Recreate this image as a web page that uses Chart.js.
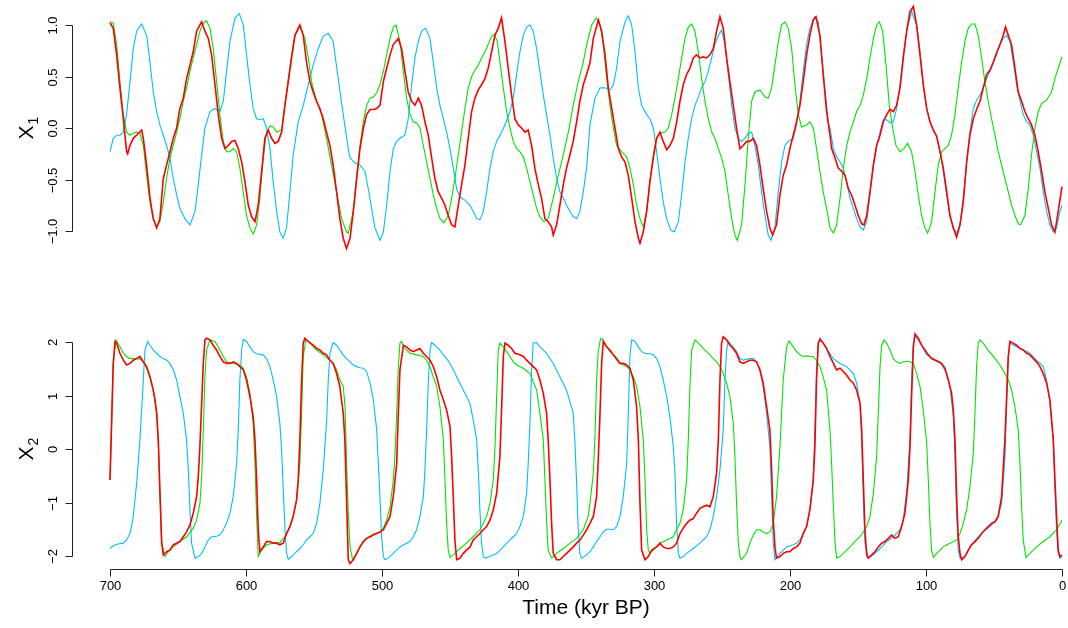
<!DOCTYPE html>
<html>
<head>
<meta charset="utf-8">
<script src="https://cdn.jsdelivr.net/npm/chart.js@4.4.1/dist/chart.umd.min.js"></script>
<style>
html, body { margin: 0; padding: 0; background: #fff; }
#wrap { position: relative; width: 1068px; height: 628px; }
#wrap canvas { position: absolute; left: 0; top: 0; }
</style>
</head>
<body>
<div id="wrap">
  <canvas id="topChart" width="1068" height="628"></canvas>
  <canvas id="bottomChart" width="1068" height="628"></canvas>
</div>
<script>
// axis ticks
const timeTicks = [700, 600, 500, 400, 300, 200, 100, 0];
const x1Ticks = [-1, -0.5, 0, 0.5, 1];
const x1TickLabels = ['−1.0', '−0.5', '0.0', '0.5', '1.0'];
const x2Ticks = [-2, -1, 0, 1, 2];
const x2TickLabels = ['−2', '−1', '0', '1', '2'];

// [time kyr BP, value]
const x1Red = [[700,1.02],[697.6,0.97],[695.1,0.71],[692.7,0.39],[690.2,0.09],[687.8,-0.23],[687,-0.25],[685.3,-0.17],[682.9,-0.10],[680.4,-0.07],[676.7,-0.02],[675.5,-0.10],[673.1,-0.36],[670.6,-0.68],[668.2,-0.88],[665.7,-0.97],[663.3,-0.88],[660.8,-0.49],[658.4,-0.36],[655.9,-0.23],[653.5,-0.10],[651,0.00],[648.6,0.19],[646.1,0.29],[643.7,0.48],[641.2,0.61],[638.8,0.74],[636.3,0.94],[633.9,1.00],[632.6,1.03],[630.2,0.94],[627.7,0.87],[625.3,0.71],[622.8,0.42],[620.4,0.13],[617.9,-0.10],[615.5,-0.20],[613,-0.17],[610.6,-0.13],[608.1,-0.12],[605.7,-0.20],[603.2,-0.33],[600.8,-0.52],[598.3,-0.75],[595.9,-0.86],[593.4,-0.91],[591,-0.75],[588.5,-0.42],[586.1,-0.10],[583.6,-0.02],[581.2,-0.10],[578.7,-0.15],[576.3,-0.13],[573.8,-0.04],[571.4,0.22],[568.9,0.45],[566.5,0.68],[564,0.90],[560.4,1.00],[557.9,0.90],[555.5,0.64],[553,0.45],[550.6,0.35],[548.1,0.26],[545.7,0.19],[543.2,0.09],[540.8,-0.04],[538.3,-0.17],[535.9,-0.36],[533.4,-0.62],[531,-0.88],[528.5,-1.07],[526.1,-1.17],[523.5,-1.07],[521.1,-0.81],[518.6,-0.49],[516.2,-0.20],[513.7,0.00],[511.3,0.13],[508.8,0.18],[506.4,0.18],[503.9,0.19],[501.5,0.22],[499,0.45],[496.6,0.58],[494.1,0.71],[491.7,0.81],[488,0.87],[485.6,0.77],[483.1,0.55],[480.7,0.35],[478.2,0.26],[475.8,0.22],[473.3,0.29],[470.9,0.22],[468.4,0.06],[466,-0.07],[463.5,-0.29],[461.1,-0.49],[458.6,-0.62],[456.2,-0.68],[453.7,-0.75],[451.3,-0.85],[448.8,-0.94],[446.4,-0.96],[443.9,-0.75],[441.5,-0.55],[439,-0.36],[436.6,-0.10],[434.1,0.16],[431.7,0.29],[429.2,0.37],[426.8,0.42],[424.3,0.48],[421.9,0.58],[419.4,0.74],[417,0.90],[414.5,0.97],[412.1,1.07],[409.6,0.84],[407.2,0.58],[404.7,0.32],[402.3,0.09],[399.8,0.03],[397.4,0.00],[394.9,-0.04],[392.5,-0.02],[390,-0.17],[387.6,-0.39],[385.1,-0.55],[382.7,-0.68],[380.2,-0.88],[377.8,-0.91],[375.3,-0.96],[374.1,-1.04],[371.6,-0.94],[369.2,-0.75],[366.7,-0.55],[364.3,-0.39],[361.8,-0.26],[359.4,-0.13],[356.9,0.06],[354.5,0.26],[352,0.42],[349.6,0.52],[347.1,0.63],[344.6,0.87],[340.9,1.05],[338.5,0.94],[336,0.71],[333.6,0.39],[331.1,0.19],[328.7,0.00],[326.2,-0.20],[323.8,-0.28],[321.3,-0.33],[318.9,-0.46],[316.4,-0.68],[314,-0.91],[311.5,-1.07],[310.3,-1.12],[307.9,-1.01],[305.4,-0.81],[303,-0.52],[300.5,-0.29],[298.1,-0.10],[295.6,-0.04],[293.2,-0.13],[290.7,-0.21],[288.3,-0.17],[285.8,-0.10],[283.3,0.06],[280.9,0.26],[278.5,0.42],[276,0.52],[273.6,0.58],[271.1,0.68],[268.7,0.71],[266.2,0.68],[263.8,0.69],[261.3,0.68],[258.9,0.71],[256.4,0.77],[254,0.94],[251.5,1.08],[249.1,0.97],[246.6,0.68],[244.2,0.45],[241.7,0.22],[239.3,0.00],[236.8,-0.20],[234.4,-0.17],[231.9,-0.13],[229.5,-0.13],[227,-0.10],[224.6,-0.17],[222.1,-0.36],[219.7,-0.59],[217.2,-0.81],[214.8,-0.97],[212.8,-1.04],[209.9,-0.94],[207.4,-0.65],[205,-0.46],[202.5,-0.36],[200.1,-0.20],[197.6,-0.07],[195.2,0.06],[192.7,0.22],[190.3,0.45],[187.8,0.71],[185.4,0.90],[182.9,1.05],[180.9,1.08],[178,0.90],[175.6,0.52],[173.1,0.16],[170.6,-0.07],[169.4,-0.20],[166.9,-0.29],[164.5,-0.39],[162,-0.42],[159.6,-0.46],[157.1,-0.59],[154.7,-0.65],[152.2,-0.75],[149.8,-0.85],[147.3,-0.93],[145.6,-0.94],[143.6,-0.85],[141.2,-0.62],[138.7,-0.36],[136.3,-0.17],[133.8,-0.07],[131.4,0.06],[128.9,0.13],[126.5,0.18],[124,0.16],[121.6,0.22],[119.1,0.39],[116.7,0.68],[114.2,0.94],[111.8,1.13],[109.3,1.18],[106.9,1.00],[104.4,0.71],[102,0.42],[99.5,0.19],[97.1,0.06],[94.6,-0.02],[92.2,-0.08],[89.7,-0.23],[87.3,-0.39],[84.8,-0.62],[82.4,-0.85],[79.9,-0.97],[77.5,-1.06],[75,-0.94],[72.6,-0.72],[70.1,-0.33],[67.7,-0.07],[65.2,0.09],[62.8,0.18],[60.3,0.26],[57.9,0.39],[55.4,0.52],[53,0.56],[50.5,0.64],[48.1,0.73],[45.6,0.81],[43.2,0.90],[41.5,0.98],[39.5,0.90],[37.1,0.81],[34.6,0.58],[32.2,0.35],[29.7,0.26],[27.3,0.16],[24.8,0.09],[22.4,0.03],[19.9,-0.07],[17.5,-0.23],[15,-0.42],[12.6,-0.62],[10.1,-0.78],[7.7,-0.94],[5.2,-1.01],[2.8,-0.81],[0,-0.57]];

const x1Green = [[700,1.03],[697.6,1.02],[695.1,0.81],[692.7,0.45],[690.2,0.13],[687.8,-0.04],[685.3,-0.07],[682.9,-0.05],[680.4,-0.04],[678,-0.05],[675.5,-0.17],[673.1,-0.46],[670.6,-0.72],[668.2,-0.88],[665.7,-0.96],[663.3,-0.91],[660.8,-0.72],[658.4,-0.49],[655.9,-0.29],[653.5,-0.17],[651,-0.04],[648.6,0.09],[646.1,0.26],[643.7,0.39],[641.2,0.55],[638.8,0.68],[636.3,0.81],[633.9,0.94],[631.4,1.02],[629,1.04],[626.5,0.97],[624.1,0.77],[621.6,0.45],[619.2,0.13],[616.7,-0.13],[614.3,-0.23],[611.8,-0.23],[609.4,-0.20],[606.9,-0.23],[604.5,-0.39],[602,-0.62],[599.6,-0.85],[597.1,-0.97],[594.7,-1.03],[592.2,-0.94],[589.8,-0.68],[587.3,-0.29],[584.9,-0.04],[582.4,0.02],[580,0.01],[577.5,-0.04],[573.8,-0.02],[571.4,0.22],[568.9,0.48],[566.5,0.71],[564,0.90],[560.4,0.98],[556.7,0.87],[554.2,0.68],[551.8,0.45],[548.1,0.26],[544.4,0.13],[540.8,-0.10],[537.1,-0.36],[533.4,-0.62],[529.7,-0.88],[526.1,-1.01],[524.8,-1.02],[521.1,-0.81],[518.6,-0.46],[516.2,-0.17],[513.7,0.06],[511.3,0.22],[508.8,0.29],[506.4,0.30],[503.9,0.34],[501.5,0.42],[499,0.55],[496.6,0.71],[494.1,0.87],[491.7,0.98],[489.7,1.00],[486.8,0.84],[484.3,0.55],[481.9,0.29],[479.4,0.13],[477,0.06],[474.5,0.05],[472.1,0.00],[469.6,-0.17],[467.2,-0.33],[464.7,-0.49],[462.3,-0.65],[459.8,-0.78],[457.4,-0.88],[454.4,-0.92],[451.3,-0.85],[448.8,-0.68],[446.4,-0.49],[443.9,-0.26],[441.5,-0.04],[439,0.19],[436.6,0.39],[434.1,0.50],[431.7,0.56],[429.2,0.61],[426.8,0.68],[424.3,0.74],[421.9,0.81],[419.4,0.89],[417.4,0.91],[415.2,0.84],[413.3,0.64],[410.8,0.39],[408.4,0.16],[405.9,0.00],[403.5,-0.13],[401,-0.20],[398.6,-0.23],[396.1,-0.28],[393.7,-0.39],[391.2,-0.52],[388.8,-0.65],[386.3,-0.78],[383.9,-0.86],[380.9,-0.91],[377.8,-0.88],[374.1,-0.68],[370.4,-0.46],[366.7,-0.26],[363,-0.04],[359.4,0.22],[355.7,0.45],[352,0.64],[349.5,0.81],[345.8,1.00],[342.6,1.07],[339.7,1.00],[337.3,0.81],[334.8,0.48],[332.4,0.22],[329.9,0.00],[327.5,-0.17],[323.8,-0.23],[320.1,-0.28],[317.7,-0.39],[315.2,-0.55],[312.8,-0.75],[310.3,-0.88],[307.9,-0.96],[305.4,-0.81],[303,-0.52],[300.5,-0.26],[298.1,-0.10],[295.6,-0.05],[291.9,-0.04],[289.5,0.00],[287,0.13],[284.6,0.29],[282.1,0.48],[279.7,0.68],[277.2,0.87],[274.8,0.98],[272.3,1.01],[269.9,0.94],[267.4,0.74],[265,0.48],[262.5,0.26],[260.1,0.09],[257.6,-0.04],[255.2,-0.10],[252.7,-0.20],[250.3,-0.29],[247.8,-0.42],[245.4,-0.65],[242.9,-0.88],[240.5,-1.04],[238.8,-1.09],[235.6,-0.94],[233.1,-0.55],[230.7,-0.10],[228.2,0.26],[225.8,0.35],[222.1,0.37],[218.4,0.30],[216,0.29],[213.5,0.39],[211.1,0.61],[208.6,0.84],[206.2,1.00],[203.7,1.03],[201.3,0.97],[198.8,0.77],[196.4,0.42],[193.9,0.13],[191.5,0.01],[187.8,0.03],[185.4,0.06],[182.9,0.00],[180.5,-0.20],[178,-0.42],[175.6,-0.62],[173.1,-0.78],[170.6,-0.97],[168.1,-1.02],[165.7,-0.94],[163.2,-0.68],[160.8,-0.39],[158.3,-0.17],[155.9,-0.04],[153.4,0.06],[151,0.16],[148.5,0.22],[146.1,0.32],[143.6,0.48],[141.2,0.68],[138.7,0.87],[136.3,1.00],[134.3,1.03],[131.9,0.94],[129.4,0.61],[127,0.22],[124.5,0.00],[122.1,-0.17],[119.1,-0.23],[116.2,-0.20],[113.5,-0.15],[110.6,-0.23],[108.1,-0.42],[105.7,-0.65],[103.2,-0.85],[100.8,-0.97],[98.8,-1.02],[95.9,-0.91],[93.4,-0.62],[91,-0.36],[88.5,-0.23],[86.1,-0.20],[83.6,-0.17],[81.2,-0.07],[78.7,0.13],[76.3,0.39],[73.8,0.64],[71.4,0.84],[68.9,0.97],[66.5,1.01],[64,1.01],[61.6,0.90],[59.1,0.68],[56.7,0.45],[54.2,0.26],[51.8,0.09],[49.3,-0.07],[46.9,-0.23],[44.4,-0.36],[42,-0.49],[39.5,-0.62],[37.1,-0.75],[34.6,-0.85],[32.2,-0.93],[30.5,-0.94],[27.3,-0.85],[24.8,-0.59],[22.4,-0.26],[19.9,0.00],[17.5,0.16],[15,0.24],[11.3,0.27],[7.7,0.35],[5.2,0.48],[2.8,0.58],[0,0.69]];

const x1Blue = [[700,-0.23],[697.6,-0.10],[695.1,-0.07],[692.7,-0.07],[690.2,-0.04],[687.8,0.13],[685.3,0.45],[682.9,0.77],[680.4,0.94],[676.7,1.01],[673.1,0.90],[670.6,0.64],[668.2,0.35],[665.7,0.16],[663.3,0.03],[660.8,-0.07],[658.4,-0.17],[655.9,-0.29],[653.5,-0.49],[651,-0.65],[648.6,-0.78],[644.9,-0.88],[641.2,-0.94],[637.5,-0.81],[635.1,-0.55],[632.6,-0.26],[630.2,0.00],[626.5,0.16],[622.8,0.19],[619.2,0.16],[616.7,0.26],[614.3,0.55],[611.8,0.84],[608.1,1.07],[604.9,1.11],[602,1.00],[599.6,0.71],[597.1,0.42],[594.7,0.19],[592.2,0.09],[589.8,0.08],[587.3,0.09],[584.9,0.00],[582.4,-0.20],[580,-0.52],[577.5,-0.81],[575.1,-1.01],[572.6,-1.07],[570.2,-0.97],[567.7,-0.62],[565.3,-0.26],[561.6,0.06],[557.9,0.22],[554.2,0.42],[550.6,0.61],[546.9,0.77],[543.2,0.89],[539.5,0.92],[535.9,0.84],[532.2,0.48],[528.5,0.13],[524.8,-0.20],[523.5,-0.29],[519.9,-0.34],[516.2,-0.36],[512.5,-0.42],[510.1,-0.59],[507.6,-0.78],[505.2,-0.97],[501.5,-1.09],[499,-1.01],[496.6,-0.75],[494.1,-0.42],[491.7,-0.20],[489.2,-0.13],[486.8,-0.10],[483.1,-0.07],[480.7,0.09],[478.2,0.42],[475.8,0.68],[473.3,0.84],[470.9,0.94],[467.9,0.97],[464.7,0.87],[462.3,0.64],[459.8,0.39],[457.4,0.22],[454.9,0.09],[452.5,-0.04],[450,-0.20],[447.6,-0.39],[445.1,-0.59],[442.7,-0.67],[439,-0.70],[435.3,-0.75],[432.9,-0.81],[430.4,-0.88],[428,-0.89],[425.5,-0.81],[423.1,-0.62],[420.6,-0.39],[418.2,-0.23],[415.7,-0.13],[413.3,-0.07],[409.6,0.03],[405.9,0.16],[403.5,0.29],[401,0.52],[398.6,0.74],[396.1,0.90],[393.7,0.98],[391.2,1.00],[388.8,0.94],[386.3,0.77],[383.9,0.55],[381.4,0.32],[379,0.13],[376.5,-0.07],[374.1,-0.29],[371.6,-0.49],[369.2,-0.62],[366.7,-0.68],[364.3,-0.75],[361.8,-0.81],[359.4,-0.86],[356.9,-0.88],[354.5,-0.81],[352,-0.62],[349.6,-0.39],[347.1,0.03],[343.4,0.29],[339.7,0.39],[336,0.39],[332.4,0.37],[329.9,0.42],[327.5,0.58],[325,0.84],[321.3,1.03],[318.9,1.09],[316.4,1.00],[314,0.74],[311.5,0.39],[309.1,0.22],[305.4,0.13],[303,0.09],[300.5,0.00],[298.1,-0.23],[295.6,-0.49],[293.2,-0.72],[290.7,-0.88],[287.8,-0.99],[285.1,-1.01],[282.1,-0.91],[279.7,-0.65],[277.2,-0.33],[274.8,-0.10],[272.3,0.09],[269.9,0.22],[267.4,0.30],[265,0.39],[262.5,0.45],[260.1,0.55],[257.6,0.68],[255.2,0.81],[252.7,0.90],[250.3,0.95],[247.8,0.81],[245.4,0.52],[242.9,0.22],[240.5,0.00],[238,-0.10],[235.6,-0.13],[233.1,-0.10],[230.7,-0.05],[228.2,-0.04],[225.8,-0.17],[223.3,-0.36],[220.9,-0.62],[218.4,-0.85],[216,-1.04],[214,-1.09],[211.1,-0.97],[208.6,-0.62],[206.2,-0.33],[203.7,-0.17],[201.3,-0.13],[197.6,-0.10],[195.2,0.03],[192.7,0.26],[190.3,0.55],[187.8,0.81],[185.4,0.97],[181.7,1.08],[179.2,1.03],[176.8,0.71],[174.4,0.39],[171.9,0.06],[170.6,0.00],[168.1,-0.20],[165.7,-0.28],[163.2,-0.33],[160.8,-0.39],[158.3,-0.52],[155.9,-0.68],[153.4,-0.78],[151,-0.88],[148.5,-0.96],[146.1,-0.99],[143.6,-0.91],[141.2,-0.65],[138.7,-0.36],[136.3,-0.17],[133.8,-0.04],[131.4,0.08],[128.9,0.08],[126.5,0.05],[124,0.06],[121.6,0.19],[119.1,0.42],[116.7,0.71],[114.2,0.94],[110.6,1.13],[106.9,1.00],[104.4,0.74],[102,0.42],[99.5,0.19],[97.1,0.06],[94.6,-0.02],[92.2,-0.08],[89.7,-0.23],[87.3,-0.42],[84.8,-0.65],[82.4,-0.85],[79.9,-0.97],[77.5,-1.02],[75,-0.94],[72.6,-0.68],[70.1,-0.33],[67.7,-0.04],[65.2,0.19],[62.8,0.27],[60.3,0.32],[57.9,0.39],[55.4,0.48],[53,0.55],[50.5,0.63],[48.1,0.71],[45.6,0.81],[43.2,0.87],[40.7,0.90],[38.3,0.84],[35.8,0.64],[33.4,0.42],[30.9,0.26],[28.5,0.13],[26,0.06],[23.6,0.03],[21.1,-0.07],[18.7,-0.23],[16.2,-0.39],[13.8,-0.62],[11.3,-0.81],[8.9,-0.94],[6.4,-1.01],[4,-0.97],[1.5,-0.81],[0,-0.75]];

const x2Red = [[700,-0.58],[697.6,1.60],[696.3,2.01],[695.1,1.98],[692.7,1.79],[690.2,1.66],[687.8,1.57],[685.3,1.60],[682.9,1.66],[680.4,1.69],[678,1.73],[675.5,1.63],[673.1,1.54],[670.6,1.35],[668.2,1.10],[666.9,0.92],[665.7,0.67],[664.5,0.17],[663.3,-0.77],[662,-1.76],[660.8,-1.98],[658.4,-1.92],[655.9,-1.89],[653.5,-1.79],[651,-1.76],[648.6,-1.73],[646.1,-1.64],[643.7,-1.55],[641.2,-1.42],[638.8,-1.20],[636.3,-0.89],[635.1,-0.52],[633.9,0.04],[632.6,0.85],[631.4,1.60],[630.2,2.04],[629,2.07],[626.5,2.04],[624.1,1.94],[621.6,1.85],[619.2,1.73],[616.7,1.63],[614.3,1.60],[611.8,1.60],[609.4,1.63],[606.9,1.60],[604.5,1.54],[602,1.48],[599.6,1.29],[597.1,0.98],[594.7,0.60],[593.4,0.17],[592.2,-0.58],[591,-1.51],[589.8,-1.92],[587.3,-1.83],[584.9,-1.73],[582.4,-1.73],[580,-1.76],[577.5,-1.76],[575.1,-1.79],[572.6,-1.76],[570.2,-1.58],[567.7,-1.45],[565.3,-1.26],[562.8,-0.95],[561.6,-0.58],[560.4,0.17],[559.1,1.29],[557.9,1.98],[556.7,2.07],[554.2,2.01],[550.6,1.94],[548.1,1.88],[545.7,1.85],[543.2,1.79],[540.8,1.76],[538.3,1.66],[535.9,1.60],[533.4,1.41],[531,1.17],[528.5,0.67],[527.3,0.17],[526.1,-0.89],[524.8,-2.07],[523.5,-2.14],[521.1,-2.07],[518.6,-1.95],[516.2,-1.83],[513.7,-1.73],[511.3,-1.67],[508.8,-1.64],[506.4,-1.61],[503.9,-1.58],[501.5,-1.55],[499,-1.51],[496.6,-1.39],[494.1,-1.26],[491.7,-0.89],[489.2,-0.27],[488,0.67],[486.8,1.48],[484.3,1.94],[481.9,1.91],[479.4,1.85],[477,1.82],[474.5,1.85],[472.1,1.88],[469.6,1.79],[467.2,1.73],[464.7,1.66],[462.3,1.54],[459.8,1.35],[457.4,1.10],[454.9,0.92],[452.5,0.73],[450,0.42],[448.8,-0.14],[447.6,-0.89],[446.4,-1.70],[445.1,-2.07],[442.7,-2.04],[440.2,-1.95],[437.8,-1.89],[435.3,-1.83],[432.9,-1.70],[430.4,-1.64],[428,-1.58],[425.5,-1.51],[423.1,-1.45],[420.6,-1.33],[418.2,-1.14],[415.7,-0.83],[413.3,-0.14],[412,0.79],[410.8,1.73],[409.6,1.98],[407.2,1.94],[404.7,1.88],[402.3,1.79],[398.6,1.76],[396.1,1.73],[393.7,1.66],[391.2,1.60],[388.8,1.54],[386.3,1.48],[383.9,1.29],[381.4,1.04],[379,0.67],[377.8,0.17],[376.5,-0.58],[375.3,-1.39],[374.1,-1.95],[371.6,-2.07],[369.2,-2.07],[366.7,-2.01],[364.3,-1.95],[361.8,-1.89],[359.4,-1.83],[356.9,-1.76],[354.5,-1.70],[352,-1.61],[349.6,-1.51],[347.1,-1.39],[344.6,-1.26],[342.2,-0.89],[340.9,-0.14],[339.7,0.67],[338.5,1.60],[337.3,2.01],[334.8,1.91],[332.4,1.85],[329.9,1.76],[327.5,1.69],[325,1.60],[322.6,1.60],[320.1,1.57],[317.7,1.51],[315.2,1.29],[312.8,0.79],[311.5,0.17],[310.3,-1.02],[309.1,-1.89],[306.6,-2.07],[304.2,-2.01],[301.7,-1.89],[298.1,-1.83],[295.6,-1.76],[293.2,-1.83],[290.7,-1.86],[288.3,-1.86],[285.8,-1.83],[283.4,-1.76],[280.9,-1.58],[278.5,-1.48],[276,-1.39],[273.6,-1.33],[271.1,-1.30],[268.7,-1.20],[266.2,-1.11],[263.8,-1.08],[261.3,-1.05],[258.9,-1.08],[256.4,-0.89],[254,-0.45],[252.7,0.17],[251.5,1.29],[250.3,1.98],[249.1,2.10],[246.6,2.04],[244.2,1.94],[241.7,1.88],[239.3,1.79],[236.8,1.63],[234.4,1.60],[231.9,1.63],[229.5,1.66],[227,1.66],[224.6,1.63],[222.1,1.48],[219.7,1.23],[217.2,0.79],[214.8,0.36],[213.5,-0.39],[212.3,-1.33],[211.1,-1.83],[209.9,-2.04],[207.4,-2.01],[205,-1.95],[202.5,-1.92],[200.1,-1.92],[197.6,-1.86],[195.2,-1.83],[192.7,-1.76],[190.3,-1.58],[187.8,-1.45],[185.4,-1.14],[182.9,-0.58],[181.7,0.04],[180.5,1.29],[179.2,1.98],[178,2.05],[175.6,1.98],[173.1,1.88],[170.6,1.73],[168.1,1.60],[165.7,1.48],[163.2,1.51],[160.8,1.45],[158.3,1.38],[155.9,1.29],[153.4,1.23],[151,1.10],[148.5,0.85],[147.3,0.36],[146.1,-0.58],[144.9,-1.51],[143.6,-1.98],[142.4,-2.04],[140,-1.98],[137.5,-1.92],[135.1,-1.83],[132.6,-1.76],[130.2,-1.73],[127.7,-1.67],[125.3,-1.61],[122.8,-1.67],[120.4,-1.64],[117.9,-1.45],[115.5,-1.20],[113,-0.58],[111.8,0.04],[110.6,0.98],[109.3,1.91],[108.1,2.15],[105.7,2.07],[103.2,1.94],[100.8,1.85],[98.3,1.76],[95.9,1.69],[93.4,1.66],[91,1.63],[88.5,1.60],[86.1,1.51],[83.6,1.29],[81.2,1.04],[79.9,0.73],[78.7,0.17],[77.5,-0.89],[76.3,-1.64],[75,-1.95],[73.8,-2.07],[71.4,-2.01],[68.9,-1.89],[66.5,-1.79],[64,-1.73],[61.6,-1.67],[59.1,-1.58],[56.7,-1.51],[54.2,-1.45],[51.8,-1.39],[49.3,-1.36],[46.9,-1.26],[44.4,-0.89],[42,0.17],[40.7,0.98],[39.5,1.73],[38.3,2.01],[35.9,1.98],[33.4,1.94],[31,1.88],[28.5,1.85],[26,1.79],[23.6,1.76],[21.1,1.69],[18.7,1.63],[16.2,1.54],[13.8,1.41],[11.3,1.23],[8.9,0.92],[6.4,0.17],[5.2,-0.58],[4,-1.26],[2.8,-1.89],[1.5,-2.01],[0,-1.98]];

const x2Green = [[700,-0.58],[697.6,1.60],[695.6,2.04],[692.7,1.91],[690.2,1.79],[687.8,1.73],[685.3,1.69],[680.4,1.69],[678,1.68],[675.5,1.63],[673.1,1.51],[670.6,1.35],[668.2,1.10],[665.7,0.67],[664.5,0.17],[663.3,-0.89],[662,-1.76],[659.6,-2.01],[657.1,-1.92],[653.5,-1.83],[648.6,-1.73],[643.7,-1.64],[638.8,-1.48],[636.3,-1.33],[633.9,-1.02],[632.6,-0.52],[631.4,0.36],[630.2,1.35],[629,1.85],[626.5,2.04],[622.8,2.01],[619.2,1.85],[616.7,1.73],[614.3,1.63],[609.4,1.60],[604.5,1.57],[602,1.51],[599.6,1.35],[597.1,1.04],[594.7,0.48],[593.4,-0.27],[592.2,-1.26],[591,-2.01],[588.5,-1.89],[584.9,-1.79],[580,-1.76],[575.1,-1.75],[571.4,-1.64],[567.7,-1.45],[565.3,-1.26],[562.8,-0.95],[560.4,-0.27],[559.1,0.67],[557.9,1.73],[556,2.04],[553,1.98],[548.1,1.85],[543.2,1.76],[538.3,1.66],[535.9,1.60],[533.4,1.48],[531,1.29],[528.5,1.17],[527.2,0.80],[526,-0.27],[524.8,-1.20],[523.5,-1.83],[521.6,-2.07],[518.6,-1.95],[516.2,-1.83],[511.3,-1.67],[506.4,-1.59],[501.5,-1.55],[499,-1.48],[496.6,-1.33],[494.1,-1.08],[491.7,-0.58],[490.5,-0.14],[489.2,0.67],[488,1.54],[486.8,1.98],[485.6,2.01],[483.1,1.88],[479.4,1.79],[474.5,1.76],[469.6,1.73],[467.2,1.66],[464.7,1.54],[462.3,1.35],[459.8,1.17],[457.4,0.79],[454.9,0.17],[453.7,-0.58],[452.5,-1.39],[451.3,-1.89],[450,-2.03],[446.4,-1.95],[442.7,-1.86],[437.8,-1.76],[432.9,-1.64],[428,-1.51],[425.5,-1.39],[423.1,-1.26],[420.6,-1.02],[418.2,-0.58],[416.9,0.04],[415.7,0.98],[414.5,1.85],[413.3,1.98],[410.8,1.91],[408.4,1.82],[405.9,1.73],[403.5,1.63],[401,1.57],[396.1,1.51],[391.2,1.41],[386.3,1.10],[383.9,0.67],[381.4,0.17],[380.2,-0.58],[379,-1.33],[377.8,-1.89],[375.3,-2.04],[371.6,-1.95],[366.7,-1.86],[361.8,-1.76],[356.9,-1.67],[352,-1.51],[348.4,-1.26],[347.1,-1.02],[344.6,-0.45],[343.4,0.23],[342.2,1.29],[340.9,1.85],[339.2,2.07],[337.3,2.04],[334.8,1.91],[332.4,1.82],[329.9,1.76],[327.5,1.66],[325,1.60],[322.6,1.57],[320.1,1.54],[317.7,1.48],[315.2,1.35],[312.8,1.17],[310.3,0.79],[307.9,0.17],[306.6,-0.58],[305.4,-1.51],[304.2,-1.89],[303,-1.95],[300.5,-1.89],[298.1,-1.83],[295.6,-1.76],[290.7,-1.70],[285.8,-1.64],[283.4,-1.51],[280.9,-1.39],[278.5,-1.14],[276,-0.58],[274.8,0.17],[273.6,1.17],[272.3,1.85],[269.9,2.04],[267.4,1.98],[263.8,1.88],[261.3,1.82],[258.9,1.76],[256.4,1.69],[253.9,1.63],[251.5,1.54],[249.1,1.41],[246.6,1.23],[244.2,0.98],[241.7,0.48],[240.5,-0.14],[239.3,-1.02],[238,-1.76],[236.8,-2.01],[235.6,-2.07],[231.9,-1.95],[229.5,-1.76],[227,-1.61],[224.6,-1.51],[222.1,-1.51],[219.7,-1.55],[217.2,-1.58],[214.8,-1.55],[212.3,-1.39],[209.9,-0.89],[207.4,0.04],[205,1.29],[202.5,1.91],[200.6,2.02],[197.6,1.91],[195.2,1.82],[192.7,1.76],[190.3,1.73],[187.8,1.74],[185.4,1.73],[182.9,1.73],[180.5,1.66],[178,1.54],[175.6,1.35],[173.1,1.10],[170.6,0.36],[169.4,-0.27],[168.1,-1.08],[166.9,-1.76],[165.7,-2.04],[163.2,-2.01],[160.8,-1.95],[158.3,-1.89],[155.9,-1.83],[153.4,-1.76],[151,-1.70],[148.5,-1.64],[146.1,-1.55],[143.6,-1.45],[141.2,-1.26],[138.7,-0.83],[136.3,-0.14],[135.1,0.67],[133.8,1.54],[132.6,1.94],[130.9,2.04],[128.9,1.98],[126.5,1.85],[124,1.69],[121.6,1.63],[119.1,1.60],[116.7,1.63],[114.2,1.64],[111.8,1.63],[109.3,1.60],[106.9,1.41],[104.4,1.17],[102,0.73],[99.5,0.11],[98.3,-0.58],[97.1,-1.39],[95.9,-1.89],[94.6,-2.03],[92.2,-1.95],[89.7,-1.89],[87.3,-1.83],[84.8,-1.79],[82.4,-1.76],[79.9,-1.73],[77.5,-1.70],[75,-1.58],[72.6,-1.39],[70.1,-1.14],[67.7,-0.70],[65.2,-0.08],[64,0.67],[62.8,1.54],[61.6,1.98],[60.3,2.04],[57.9,1.98],[55.4,1.88],[50.5,1.73],[45.6,1.57],[42,1.41],[39.5,1.29],[37.1,1.10],[34.6,0.79],[32.2,0.36],[30.9,-0.27],[29.7,-1.08],[28.5,-1.70],[26.5,-2.03],[23.6,-1.95],[18.7,-1.83],[13.8,-1.73],[8.9,-1.64],[4,-1.51],[0,-1.33]];

const x2Blue = [[700,-1.86],[697.6,-1.81],[695.1,-1.78],[690.2,-1.76],[687.8,-1.70],[685.3,-1.58],[682.9,-1.26],[680.4,-0.64],[678,0.17],[675.5,1.29],[674.3,1.85],[672.3,2.01],[670.6,1.94],[668.2,1.85],[665.7,1.79],[663.3,1.73],[660.8,1.69],[658.4,1.66],[655.9,1.60],[653.5,1.48],[651,1.29],[648.6,0.98],[646.1,0.67],[643.7,0.17],[642.4,-0.39],[641.2,-1.14],[640,-1.76],[637.5,-2.04],[635.1,-2.01],[632.6,-1.95],[630.2,-1.83],[627.7,-1.70],[625.3,-1.64],[621.6,-1.63],[619.2,-1.61],[616.7,-1.51],[614.3,-1.39],[611.8,-1.20],[609.4,-0.89],[606.9,-0.27],[605.7,0.36],[604.5,1.29],[603.2,1.85],[602,2.05],[599.6,2.01],[597.1,1.91],[594.7,1.82],[592.2,1.78],[587.3,1.76],[584.9,1.69],[582.4,1.54],[580,1.29],[577.5,0.98],[575.1,0.48],[573.8,-0.02],[572.6,-0.77],[571.3,-1.51],[570.2,-1.95],[568.9,-2.06],[566.5,-2.01],[562.8,-1.92],[560.4,-1.86],[557.9,-1.79],[555.5,-1.70],[553,-1.64],[550.6,-1.58],[548.1,-1.39],[545.7,-1.02],[543.2,-0.39],[540.8,0.48],[539.5,1.29],[538.3,1.79],[535.9,1.99],[533.4,1.94],[531,1.85],[528.5,1.76],[526.1,1.69],[523.6,1.63],[521.1,1.57],[518.6,1.54],[516.2,1.52],[513.7,1.51],[511.3,1.45],[508.8,1.23],[506.4,0.92],[503.9,0.36],[502.7,-0.27],[501.5,-0.89],[500.3,-1.64],[499,-2.01],[497.8,-2.07],[495.4,-2.04],[491.7,-1.95],[486.8,-1.83],[481.9,-1.76],[479.4,-1.73],[477,-1.64],[474.5,-1.51],[472.1,-1.26],[469.6,-0.89],[468.4,-0.39],[467.2,0.36],[465.9,1.29],[464.7,1.85],[463.5,1.99],[461.1,1.94],[457.4,1.85],[454.9,1.76],[452.5,1.69],[450,1.60],[447.6,1.48],[445.1,1.35],[442.7,1.23],[440.2,1.10],[437.8,0.98],[435.3,0.85],[432.9,0.54],[430.4,0.17],[429.2,-0.39],[428,-1.14],[426.8,-1.76],[425.5,-2.01],[424.3,-2.04],[420.6,-2.01],[415.7,-1.95],[410.8,-1.83],[405.9,-1.70],[403.5,-1.64],[401,-1.58],[398.6,-1.45],[396.1,-1.26],[393.7,-0.83],[392.5,-0.27],[391.2,0.48],[390,1.48],[388.8,1.98],[386.3,1.99],[383.9,1.91],[379,1.79],[374.1,1.60],[369.2,1.35],[364.3,1.10],[359.4,0.67],[358.2,0.17],[356.9,-0.64],[355.7,-1.51],[354.5,-1.95],[353.3,-2.04],[349.6,-1.98],[347.1,-1.92],[344.6,-1.83],[342.2,-1.73],[339.7,-1.64],[337.3,-1.55],[334.8,-1.50],[332.4,-1.50],[329.9,-1.51],[327.5,-1.45],[325,-1.26],[322.6,-0.89],[320.1,-0.27],[318.9,0.67],[317.7,1.73],[316.4,2.04],[314,2.01],[311.5,1.91],[309.1,1.82],[306.6,1.79],[303,1.78],[300.5,1.76],[298.1,1.69],[295.6,1.54],[293.2,1.29],[290.7,0.98],[288.3,0.60],[285.8,0.04],[284.6,-0.45],[283.4,-1.39],[282.1,-1.95],[280.9,-2.04],[278.5,-2.01],[276,-1.95],[271.1,-1.86],[266.2,-1.76],[261.3,-1.64],[258.9,-1.51],[256.4,-1.26],[254,-0.89],[251.5,-0.39],[249.1,0.36],[247.8,1.29],[246.6,1.85],[245.4,2.01],[242.9,1.94],[239.3,1.82],[236.8,1.69],[234.4,1.66],[231.9,1.68],[229.5,1.69],[227,1.69],[224.6,1.63],[222.1,1.48],[219.7,1.17],[217.2,0.67],[214.8,0.04],[213.5,-0.89],[212.3,-1.76],[211.1,-2.07],[207.4,-1.95],[202.5,-1.83],[197.6,-1.79],[195.2,-1.76],[192.7,-1.70],[190.3,-1.58],[187.8,-1.45],[185.4,-1.14],[182.9,-0.58],[181.7,0.36],[180.5,1.48],[179.2,1.98],[178,2.07],[175.6,1.98],[173.1,1.88],[168.1,1.69],[163.2,1.60],[158.3,1.54],[153.4,1.41],[151,1.23],[148.5,0.85],[147.3,0.17],[146.1,-0.89],[144.9,-1.76],[142.4,-2.04],[138.7,-1.98],[133.8,-1.86],[128.9,-1.73],[124,-1.64],[119.1,-1.51],[116.7,-1.33],[114.2,-0.77],[111.8,0.17],[110.6,1.29],[109.3,1.98],[108.1,2.10],[105.7,2.04],[102,1.88],[99.5,1.76],[94.6,1.69],[89.7,1.63],[84.8,1.41],[82.4,1.17],[79.9,0.60],[78.7,-0.14],[77.5,-1.20],[76.3,-1.89],[75,-2.04],[71.4,-2.01],[67.7,-1.83],[62.8,-1.67],[57.9,-1.55],[53,-1.45],[48.1,-1.33],[44.4,-1.02],[41.9,-0.14],[40.7,0.85],[39.5,1.73],[38.3,1.98],[33.4,1.91],[28.5,1.85],[23.6,1.79],[18.7,1.66],[13.8,1.54],[11.3,1.29],[8.9,0.85],[6.4,0.17],[5.2,-0.70],[4,-1.51],[2.8,-1.95],[1.5,-2.04],[0,-2.01]];

const FONT = '"Liberation Sans", Arial, Helvetica, sans-serif';
const RED = '#ff0000', GREEN = '#00e600', BLUE = '#00bfff';

function toPoints(arr) {
    return arr.map(p => ({ x: p[0], y: p[1] }));
}

// R-style axes drawn from the chart's own scales
function rAxes(opts) {
    return {
        id: 'rAxes',
        afterDraw(chart) {
            const ctx = chart.ctx;
            const xs = chart.scales.x, ys = chart.scales.y;
            const left = chart.chartArea.left + 0.5;
            ctx.save();
            ctx.strokeStyle = '#222';
            ctx.fillStyle = '#000';
            ctx.lineWidth = 1;

            // y axis
            const yPix = opts.yTicks.map(v => Math.round(ys.getPixelForValue(v)) + 0.5);
            ctx.beginPath();
            ctx.moveTo(left, yPix[0]);
            ctx.lineTo(left, yPix[yPix.length - 1]);
            yPix.forEach(p => { ctx.moveTo(left, p); ctx.lineTo(left - 7, p); });
            ctx.stroke();

            ctx.font = '13px ' + FONT;
            ctx.textAlign = 'center';
            ctx.textBaseline = 'middle';
            yPix.forEach((p, i) => {
                ctx.save();
                ctx.translate(left - 19, p);
                ctx.rotate(-Math.PI / 2);
                ctx.fillText(opts.yLabels[i], 0, 0);
                ctx.restore();
            });

            // y title with subscript
            const midY = (yPix[0] + yPix[yPix.length - 1]) / 2;
            ctx.save();
            ctx.translate(left - 47, midY);
            ctx.rotate(-Math.PI / 2);
            ctx.textAlign = 'left';
            ctx.textBaseline = 'alphabetic';
            ctx.font = '21px ' + FONT;
            const wX = ctx.measureText('X').width;
            ctx.font = '14px ' + FONT;
            const wS = ctx.measureText(opts.sub).width;
            const x0 = -(wX + wS) / 2;
            ctx.font = '21px ' + FONT;
            ctx.fillText('X', x0, 7.5);
            ctx.font = '14px ' + FONT;
            ctx.fillText(opts.sub, x0 + wX + 1, 12);
            ctx.restore();

            // x axis (bottom panel only)
            if (opts.xTicks) {
                const y0 = chart.chartArea.bottom + 0.5;
                const xPix = opts.xTicks.map(v => Math.round(xs.getPixelForValue(v)) + 0.5);
                ctx.beginPath();
                ctx.moveTo(xPix[0], y0);
                ctx.lineTo(xPix[xPix.length - 1], y0);
                xPix.forEach(p => { ctx.moveTo(p, y0); ctx.lineTo(p, y0 + 7); });
                ctx.stroke();
                ctx.font = '13px ' + FONT;
                ctx.textAlign = 'center';
                ctx.textBaseline = 'middle';
                xPix.forEach((p, i) => ctx.fillText(String(opts.xTicks[i]), p, y0 + 17));
                ctx.font = '21px ' + FONT;
                ctx.fillText('Time (kyr BP)', xs.getPixelForValue(350), y0 + 39);
            }
            ctx.restore();
        }
    };
}

function makePanel(id, red, green, blue, yMin, yMax, pad, axisOpts) {
    const line = (data, color, width) => ({
        data: toPoints(data),
        borderColor: color,
        borderWidth: width,
        pointRadius: 0,
        tension: 0,
        fill: false
    });
    return new Chart(document.getElementById(id), {
        type: 'line',
        data: {
            // first dataset is painted last, so red ends up on top
            datasets: [line(red, RED, 1.6), line(green, GREEN, 1.1), line(blue, BLUE, 1.1)]
        },
        options: {
            responsive: false,
            animation: false,
            events: [],
            layout: { padding: pad },
            plugins: { legend: { display: false }, tooltip: { enabled: false } },
            scales: {
                x: { type: 'linear', reverse: true, min: -4.41, max: 727.94, display: false },
                y: { type: 'linear', min: yMin, max: yMax, display: false }
            }
        },
        plugins: [rAxes(axisOpts)]
    });
}

makePanel('topChart', x1Red, x1Green, x1Blue, -1.2233, 1.1942,
    { left: 72, right: 0, top: 5, bottom: 374 },
    { yTicks: x1Ticks, yLabels: x1TickLabels, sub: '1' });

makePanel('bottomChart', x2Red, x2Green, x2Blue, -2.243, 2.318,
    { left: 72, right: 0, top: 325, bottom: 59 },
    { yTicks: x2Ticks, yLabels: x2TickLabels, sub: '2', xTicks: timeTicks });
</script>
</body>
</html>
